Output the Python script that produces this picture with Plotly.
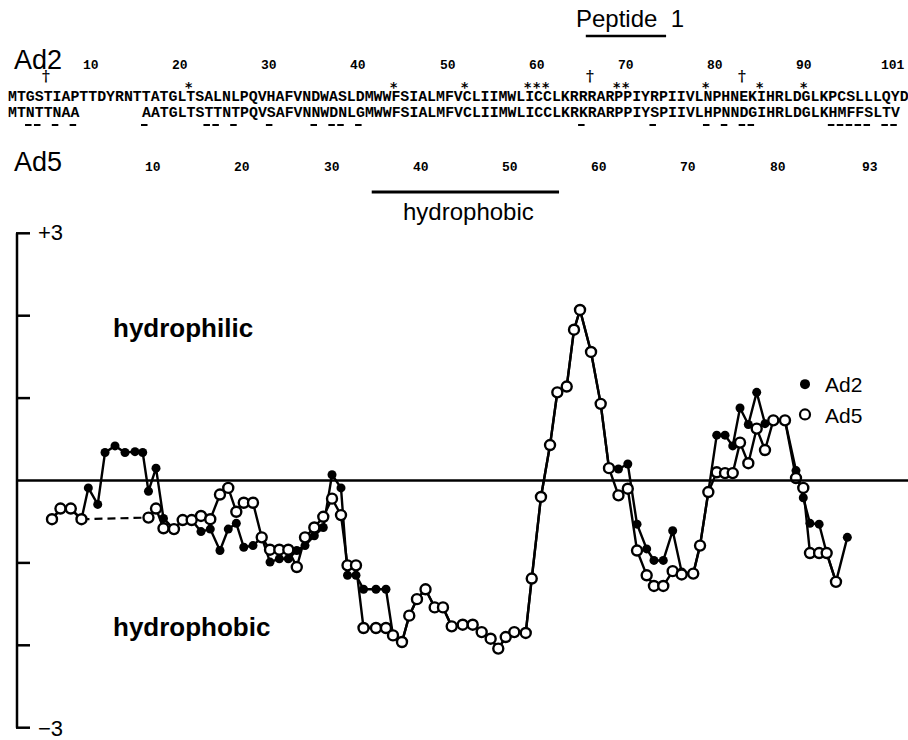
import plotly.graph_objects as go

W, H = 908, 740

# ---------------- data ----------------
# window-centre position (Ad2 residue numbering) of each profile point
positions = [4.00, 5.00, 6.22, 7.48, 8.29, 9.40, 10.26, 11.44, 12.62, 13.80,
             14.71, 15.39, 16.28, 17.16, 18.40, 19.43, 20.49, 21.59, 22.69, 23.83,
             24.81, 25.76, 26.64, 27.73, 28.76, 29.74, 30.84, 31.90, 32.90, 33.87,
             34.97, 36.03, 37.06, 38.12, 38.89, 39.89, 40.78, 42.25, 43.43, 44.26,
             45.32, 46.18, 47.09, 48.10, 49.18, 50.16, 51.19, 52.49, 53.67, 54.73,
             55.79, 56.69, 57.57, 58.58, 59.93, 60.64, 61.73, 62.80, 63.66, 64.77,
             65.63, 66.34, 67.64, 68.78, 69.76, 70.88, 71.98, 73.07, 74.21, 75.07,
             76.17, 77.28, 78.34, 79.71, 80.51, 81.49, 82.48, 83.46, 84.37, 85.23,
             86.21, 87.20, 88.18, 89.16, 90.54, 91.84, 92.70, 93.49, 94.57, 95.46,
             96.56, 97.90]

ad2_values = [-0.47, -0.35, -0.35, -0.47, -0.09, -0.29, 0.34, 0.42, 0.34, 0.35,
              0.34, -0.13, 0.15, -0.46, -0.59, -0.48, -0.48, -0.62, -0.59, -0.85,
              -0.59, -0.52, -0.81, -0.79, -0.69, -0.99, -0.95, -0.95, -0.85, -0.79,
              -0.67, -0.57, 0.07, -0.09, -1.15, -1.15, -1.32, -1.32, -1.32, -1.88,
              -1.96, -1.64, -1.44, -1.32, -1.54, -1.54, -1.77, -1.75, -1.75, -1.84,
              -1.92, -2.04, -1.90, -1.84, -1.85, -1.19, -0.20, 0.43, 1.07, 1.14,
              1.83, 2.07, 1.56, 0.93, 0.15, 0.14, 0.20, -0.53, -0.83, -0.97,
              -0.97, -0.61, -1.11, -1.13, -0.79, -0.14, 0.55, 0.55, 0.42, 0.88,
              0.68, 1.07, 0.69, 0.72, 0.73, 0.12, -0.21, -0.52, -0.53, -0.88,
              -1.23, -0.69]

ad5_values = [-0.47, -0.34, -0.34, -0.47, None, None, None, None, None, None,
              None, -0.45, -0.34, -0.58, -0.59, -0.48, -0.48, -0.43, -0.47, -0.17,
              -0.09, -0.38, -0.27, -0.27, -0.69, -0.84, -0.84, -0.84, -1.05, -0.69,
              -0.57, -0.44, -0.22, -0.42, -1.03, -1.03, -1.79, -1.79, -1.79, -1.88,
              -1.96, -1.64, -1.44, -1.32, -1.54, -1.54, -1.77, -1.75, -1.75, -1.84,
              -1.92, -2.04, -1.90, -1.84, -1.85, -1.19, -0.20, 0.43, 1.07, 1.14,
              1.83, 2.07, 1.56, 0.93, 0.15, -0.18, -0.10, -0.85, -1.15, -1.28,
              -1.28, -1.10, -1.14, -1.13, -0.79, -0.14, 0.10, 0.09, 0.09, 0.46,
              0.21, 0.63, 0.37, 0.73, 0.73, 0.03, -0.09, -0.88, -0.88, -0.88,
              -1.23, None]

ad2_seq = "MTGSTIAPTTDYRNTTATGLTSALNLPQVHAFVNDWASLDMWWFSIALMFVCLIIMWLICCLKRRRARPPIYRPIIVLNPHNEKIHRLDGLKPCSLLLQYD"
ad5_seq_n = "MTNTTNAA"
ad5_gap = 7
ad5_seq_c = "AATGLTSTTNTPQVSAFVNNWDNLGMWWFSIALMFVCLIIMWLICCLKRKRARPPIYSPIIVLHPNNDGIHRLDGLKHMFFSLTV"

ad2_numbers = [10, 20, 30, 40, 50, 60, 70, 80, 90, 101]
ad5_numbers = [10, 20, 30, 40, 50, 60, 70, 80, 93]
dagger_columns = [5, 66, 83]
star_columns = [21, 44, 52, 59, 60, 61, 69, 70, 79, 85, 90]
peptide1_span = (66, 74)
hydrophobic_span = (42, 62)
y_ticks = [-3, -2, -1, 0, 1, 2, 3]

# ---------------- layout helpers (page pixels -> paper) ----------------
def X(px):
    return px / W

def Y(py):
    return 1 - py / H

SEQ_X0 = 6.0
CW = 8.92
SEQ_FS = CW / 0.6

def res_left(r):
    return SEQ_X0 + (r - 1) * CW

def res_center(r):
    return SEQ_X0 + (r - 0.5) * CW

def ad5_to_aligned(n):
    return n if n <= len(ad5_seq_n) else n + ad5_gap

BLACK = "black"
fig = go.Figure()

# dashed connector across the Ad5 deletion
gi0 = max(i for i, v in enumerate(ad5_values[:10]) if v is not None)
gi1 = min(i for i, v in enumerate(ad5_values) if i > gi0 and v is not None)
fig.add_trace(go.Scatter(x=[positions[gi0], positions[gi1]], y=[ad5_values[gi0], ad5_values[gi1]],
                         mode="lines", line=dict(color=BLACK, width=2.2, dash="8px,5px"),
                         showlegend=False, hoverinfo="skip"))

fig.add_trace(go.Scatter(x=positions, y=ad2_values, mode="lines+markers",
                         line=dict(color=BLACK, width=2.4),
                         marker=dict(size=9, color=BLACK, symbol="circle"),
                         showlegend=False, name="Ad2"))
fig.add_trace(go.Scatter(x=positions, y=ad5_values, mode="lines+markers", connectgaps=False,
                         line=dict(color=BLACK, width=2.4),
                         marker=dict(size=10, color="white", symbol="circle",
                                     line=dict(color=BLACK, width=2.4)),
                         showlegend=False, name="Ad5"))

# legend entries
fig.add_trace(go.Scatter(x=[None], y=[None], mode="markers", name="Ad2", legendgroup="a",
                         marker=dict(size=10, color=BLACK)))
fig.add_trace(go.Scatter(x=[None], y=[None], mode="markers", name="Ad5", legendgroup="b",
                         marker=dict(size=10, color="white", line=dict(color=BLACK, width=2.2))))

shapes = []
# vertical axis with end caps and ticks
shapes.append(dict(type="line", xref="paper", yref="y", x0=X(17), x1=X(17), y0=-3, y1=3,
                   line=dict(color=BLACK, width=2.5)))
for t in y_ticks:
    if t == 0:
        shapes.append(dict(type="line", xref="paper", yref="y", x0=X(17), x1=1, y0=0, y1=0,
                           line=dict(color=BLACK, width=2.5)))
    else:
        shapes.append(dict(type="line", xref="paper", yref="y", x0=X(16), x1=X(30), y0=t, y1=t,
                           line=dict(color=BLACK, width=2.5)))

# bars for Peptide 1 and hydrophobic region
shapes.append(dict(type="line", xref="paper", yref="paper",
                   x0=X(res_left(peptide1_span[0])), x1=X(res_left(peptide1_span[1] + 1)),
                   y0=Y(36), y1=Y(36), line=dict(color=BLACK, width=2.5)))
shapes.append(dict(type="line", xref="paper", yref="paper",
                   x0=X(res_left(hydrophobic_span[0])), x1=X(res_left(hydrophobic_span[1] + 1)),
                   y0=Y(192), y1=Y(192), line=dict(color=BLACK, width=3)))

# underline residues of Ad5 that differ from Ad2
ad5_aligned = ad5_seq_n + " " * ad5_gap + ad5_seq_c
for i, (a, b) in enumerate(zip(ad2_seq, ad5_aligned)):
    if b != " " and a != b:
        shapes.append(dict(type="line", xref="paper", yref="paper",
                           x0=X(res_left(i + 1) + 1.2), x1=X(res_left(i + 2) - 1.2),
                           y0=Y(125), y1=Y(125), line=dict(color=BLACK, width=2)))

ann = []
def text(s, px, py, size, family="Liberation Sans", xanchor="center", bold=False):
    if bold:
        s = "<b>" + s + "</b>"
    ann.append(dict(text=s, x=X(px), y=Y(py), xref="paper", yref="paper", showarrow=False,
                    xanchor=xanchor, yanchor="middle", font=dict(family=family, size=size, color=BLACK)))

text("Peptide  1", 630, 19, 24)
text("Ad2", 12, 60, 27, xanchor="left")
text("Ad5", 12, 162, 27, xanchor="left")
text("hydrophobic", 468, 212, 24)

for n in ad2_numbers[:-1]:
    text(str(n), res_center(n), 65, 13, family="Liberation Mono", bold=True)
text(str(ad2_numbers[-1]), res_left(len(ad2_seq) + 1), 65, 13, family="Liberation Mono",
     xanchor="right", bold=True)
for n in ad5_numbers[:-1]:
    text(str(n), res_center(ad5_to_aligned(n)), 167, 13, family="Liberation Mono", bold=True)
text(str(ad5_numbers[-1]), res_left(ad5_to_aligned(ad5_numbers[-1]) - 1), 167, 13,
     family="Liberation Mono", xanchor="right", bold=True)

for r in dagger_columns:
    text("†", res_center(r), 76, 15, family="DejaVu Serif", bold=True)
for r in star_columns:
    text("*", res_center(r), 87, 14, family="DejaVu Sans", bold=True)

text(ad2_seq, res_left(1), 97, SEQ_FS, family="Liberation Mono", xanchor="left", bold=True)
text(ad5_seq_n, res_left(1), 113, SEQ_FS, family="Liberation Mono", xanchor="left", bold=True)
text(ad5_seq_c, res_left(len(ad5_seq_n) + ad5_gap + 1), 113, SEQ_FS,
     family="Liberation Mono", xanchor="left", bold=True)

text("+3", 36, 232, 22, xanchor="left")
text("−3", 36, 728, 22, xanchor="left")
text("hydrophilic", 111, 328, 26, xanchor="left", bold=True)
text("hydrophobic", 111, 627, 26, xanchor="left", bold=True)

# data axes: page px = 52 + (pos - 4) * 8.47 ; page py = 480.5 - 82.4 * value
x_lo = 4 + (0 - 52) / 8.47
x_hi = 4 + (W - 52) / 8.47
y_hi = 480.5 / 82.4
y_lo = (480.5 - H) / 82.4

fig.update_layout(
    width=W, height=H, margin=dict(l=0, r=0, t=0, b=0),
    paper_bgcolor="white", plot_bgcolor="white", hovermode=False,
    xaxis=dict(range=[x_lo, x_hi], visible=False, domain=[0, 1]),
    yaxis=dict(range=[y_lo, y_hi], visible=False, domain=[0, 1]),
    shapes=shapes, annotations=ann,
    legend=dict(x=X(785), y=Y(364), xanchor="left", yanchor="top",
                font=dict(family="Liberation Sans", size=21, color=BLACK),
                bgcolor="rgba(0,0,0,0)", tracegroupgap=0, traceorder="grouped"),
    showlegend=True,
)

fig.write_html("out.html", config={"displayModeBar": False, "staticPlot": True},
               post_script="document.body.style.margin='0';document.body.style.overflow='hidden';")
